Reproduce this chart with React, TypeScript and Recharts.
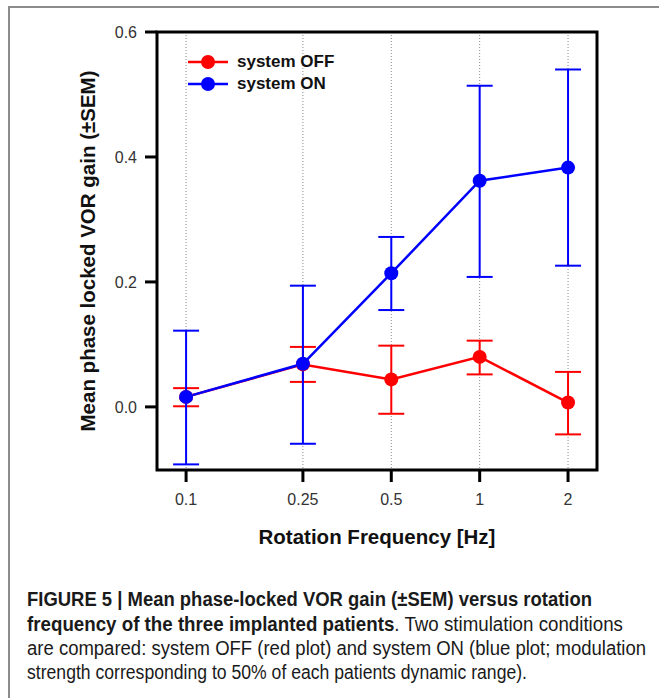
import { LineChart, Line, XAxis, YAxis, CartesianGrid, ErrorBar, ReferenceArea, Legend } from 'recharts'

// VOR gain vs rotation frequency, two stimulation conditions (mean ± SEM)
const freqs = [0.1, 0.25, 0.5, 1, 2]
const offMean = [0.016, 0.068, 0.044, 0.080, 0.007]
const offLow = [0.001, 0.040, -0.011, 0.052, -0.044]
const offHigh = [0.030, 0.096, 0.098, 0.106, 0.056]
const onMean = [0.016, 0.069, 0.214, 0.362, 0.383]
const onLow = [-0.092, -0.059, 0.155, 0.208, 0.226]
const onHigh = [0.122, 0.194, 0.272, 0.514, 0.540]
const yTicks = [0, 0.2, 0.4, 0.6]

const RED = '#ff0000'
const BLUE = '#0000ff'
const FONT = '"Liberation Sans", Arial, sans-serif'
const X_DOMAIN = [0.0796, 2.51]
const Y_DOMAIN = [-0.101, 0.6]

const data = freqs.map((f, i) => ({
  f,
  off: offMean[i],
  offErr: [offMean[i] - offLow[i], offHigh[i] - offMean[i]],
  on: onMean[i],
  onErr: [onMean[i] - onLow[i], onHigh[i] - onMean[i]],
}))

const LegendBox = ({ payload }: any) => (
  <div style={{ fontFamily: FONT }}>
    {(payload || []).map((p: any) => (
      <div key={p.value} style={{ display: 'flex', alignItems: 'center', height: 22 }}>
        <svg width={44} height={16}>
          <line x1={2} x2={42} y1={8} y2={8} stroke={p.color} strokeWidth={2.5} />
          <circle cx={22} cy={8} r={7} fill={p.color} />
        </svg>
        <span style={{ marginLeft: 7, fontSize: 17, fontWeight: 'bold', color: '#111' }}>{p.value}</span>
      </div>
    ))}
  </div>
)

export default function App() {
  return (
    <div style={{ position: 'absolute', left: 0, top: 0, width: 659, height: 698, background: '#fff', overflow: 'hidden' }}>
      <div style={{ position: 'absolute', left: 8, top: 6, width: 700, height: 720, borderTop: '2px solid #8c8c8c', borderLeft: '2px solid #8c8c8c' }} />
      <div style={{ position: 'absolute', left: 0, top: 0 }}>
        <LineChart width={659} height={604} data={data} margin={{ top: 32, right: 62, bottom: 0, left: 19 }}>
          <CartesianGrid horizontal={false} stroke="#8a8a8a" strokeDasharray="1 2" />
          <XAxis
            dataKey="f"
            type="number"
            scale="log"
            domain={X_DOMAIN}
            ticks={freqs}
            allowDataOverflow
            height={134}
            axisLine={false}
            tickSize={12}
            tickMargin={12}
            tickLine={{ stroke: '#000', strokeWidth: 3 }}
            tick={{ fill: '#333', fontSize: 16, fontFamily: FONT }}
            label={{ value: 'Rotation Frequency [Hz]', position: 'center', fill: '#111', fontSize: 20.5, fontWeight: 'bold', fontFamily: FONT }}
          />
          <YAxis
            type="number"
            domain={Y_DOMAIN}
            ticks={yTicks}
            allowDataOverflow
            width={138}
            axisLine={false}
            tickSize={12}
            tickMargin={8}
            tickFormatter={(v: number) => v.toFixed(1)}
            tickLine={{ stroke: '#000', strokeWidth: 3 }}
            tick={{ fill: '#333', fontSize: 16, fontFamily: FONT }}
            label={{ value: 'Mean phase locked VOR gain (±SEM)', angle: -90, position: 'center', fill: '#111', fontSize: 20.5, fontWeight: 'bold', fontFamily: FONT }}
          />
          <ReferenceArea x1={X_DOMAIN[0]} x2={X_DOMAIN[1]} y1={Y_DOMAIN[0]} y2={Y_DOMAIN[1]} fill="none" fillOpacity={0} stroke="#000" strokeWidth={3} ifOverflow="visible" />
          <Legend
            layout="horizontal"
            verticalAlign="middle"
            align="center"
            content={<LegendBox />}
            wrapperStyle={{ left: 186, top: 51, width: 'auto' }}
          />
          <Line
            dataKey="off"
            name="system OFF"
            stroke={RED}
            strokeWidth={2.5}
            dot={{ r: 7, fill: RED, stroke: RED, strokeWidth: 0 }}
            activeDot={false}
            isAnimationActive={false}
          >
            <ErrorBar dataKey="offErr" direction="y" width={13} stroke={RED} strokeWidth={2} isAnimationActive={false} />
          </Line>
          <Line
            dataKey="on"
            name="system ON"
            stroke={BLUE}
            strokeWidth={2.5}
            dot={{ r: 7, fill: BLUE, stroke: BLUE, strokeWidth: 0 }}
            activeDot={false}
            isAnimationActive={false}
          >
            <ErrorBar dataKey="onErr" direction="y" width={13} stroke={BLUE} strokeWidth={2} isAnimationActive={false} />
          </Line>
        </LineChart>
      </div>
      {/* caption: condensed face in the original, so squeeze each line to its measured width */}
      <svg style={{ position: 'absolute', left: 0, top: 580 }} width={659} height={118} fontFamily={FONT} fontSize={19.5} fill="#1a1a1a">
        <text x={27} y={26} textLength={565} lengthAdjust="spacingAndGlyphs" fontWeight="bold">FIGURE 5 | Mean phase-locked VOR gain (±SEM) versus rotation</text>
        <text x={27} y={50.7} textLength={596} lengthAdjust="spacingAndGlyphs">
          <tspan fontWeight="bold">frequency of the three implanted patients</tspan>. Two stimulation conditions
        </text>
        <text x={27} y={75} textLength={619} lengthAdjust="spacingAndGlyphs">are compared: system OFF (red plot) and system ON (blue plot; modulation</text>
        <text x={27} y={99} textLength={500} lengthAdjust="spacingAndGlyphs">strength corresponding to 50% of each patients dynamic range).</text>
      </svg>
    </div>
  )
}
